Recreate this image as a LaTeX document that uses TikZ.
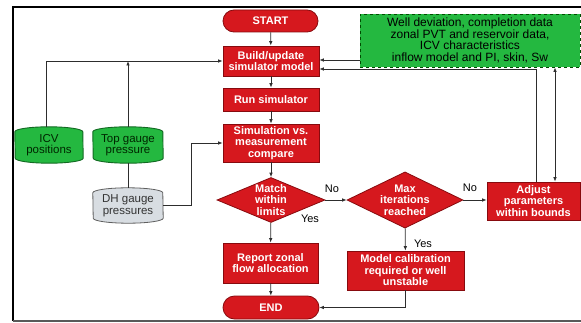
\documentclass[tikz,border=0pt]{standalone}
\usepackage{fontspec}
\setmainfont{Liberation Sans}
\usetikzlibrary{shapes.geometric,shapes.misc,arrows.meta,backgrounds,calc}
\definecolor{redfill}{RGB}{214,24,30}
\definecolor{redborder}{RGB}{135,10,14}
\definecolor{greenfill}{RGB}{36,184,64}
\definecolor{greenborder}{RGB}{18,105,34}
\definecolor{grayfill}{RGB}{216,221,226}
\definecolor{grayborder}{RGB}{95,95,95}
\definecolor{linec}{RGB}{45,45,45}
\begin{document}
\begin{tikzpicture}[x=1pt,y=1pt,
  redbox/.style={draw=redborder, fill=redfill, line width=0.8pt, text=white,
    font=\fontsize{11}{11.5}\selectfont\bfseries, align=center, inner sep=0pt},
  term/.style={redbox, rounded rectangle},
  dec/.style={redbox, diamond, inner sep=-6pt},
  drumtext/.style={inner sep=0pt, align=center, font=\fontsize{11.5}{11.5}\selectfont},
  arr/.style={draw=linec, line width=0.8pt, -{Latex[length=4.5pt,width=3.6pt]}},
  arrtwo/.style={draw=linec, line width=0.8pt, {Latex[length=4.5pt,width=3.6pt]}-{Latex[length=4.5pt,width=3.6pt]}},
  ln/.style={draw=linec, line width=0.8pt},
  lab/.style={font=\fontsize{11}{12}\selectfont, text=black, inner sep=0pt}]
\useasboundingbox (0,0) rectangle (581,322);
% frame
\draw[line width=1.6pt, black] (13,1) -- (13,315) -- (582,315);
\draw[line width=1.4pt, black!65] (13,1) -- (582,1);

% main column
\node[term, minimum width=95pt, minimum height=22pt] (start) at (270.5,301) {START};
\node[redbox, minimum width=96pt, minimum height=30pt] (build) at (271,261) {Build/update\\simulator model};
\node[redbox, minimum width=96pt, minimum height=23pt] (run) at (271,222.5) {Run simulator};
\node[redbox, minimum width=96pt, minimum height=38pt] (sim) at (271,179) {Simulation vs.\\measurement\\compare};
\node[dec, minimum width=108pt, minimum height=45pt] (match) at (271,122) {Match\\within\\limits};
\node[redbox, minimum width=95pt, minimum height=40pt] (report) at (270.5,59) {Report zonal\\flow allocation};
\node[term, minimum width=96pt, minimum height=23pt] (end) at (271,14.5) {END};

% right side
\node[dec, minimum width=116pt, minimum height=46pt] (max) at (405,122) {Max\\iterations\\reached};
\node[redbox, minimum width=93pt, minimum height=38pt] (adjust) at (533.5,121) {Adjust\\parameters\\within bounds};
\node[redbox, minimum width=117pt, minimum height=39pt] (calib) at (405.5,51.5) {Model calibration\\required or well\\unstable};
\node[draw=black!70!green, dashed, line width=0.9pt, fill=greenfill, text=black,
  minimum width=220pt, minimum height=53pt, inner sep=0pt, align=center,
  font=\fontsize{12}{11.7}\selectfont] (green) at (470,281.5)
  {Well deviation, completion data\\zonal PVT and reservoir data,\\ICV characteristics\\inflow model and PI, skin, Sw};

% drums (left)
\node[drumtext, minimum width=68pt, minimum height=36pt, text=black!85!green] (icv) at (49,177) {ICV\\positions};
\node[drumtext, minimum width=70pt, minimum height=36pt, text=black!85!green] (top) at (128,177) {Top gauge\\pressure};
\node[drumtext, minimum width=70pt, minimum height=35pt, text=black!80] (dh) at (128,116.5) {DH gauge\\pressures};
\begin{scope}[on background layer]
  \path[fill=greenfill, draw=greenborder, line width=0.9pt]
    ([yshift=-5pt]icv.north west) arc[start angle=180, end angle=0, x radius=34pt, y radius=5pt]
    -- ([yshift=5pt]icv.south east) arc[start angle=0, end angle=-180, x radius=34pt, y radius=5pt] -- cycle;
  \path[fill=greenfill, draw=greenborder, line width=0.9pt]
    ([yshift=-5pt]top.north west) arc[start angle=180, end angle=0, x radius=35pt, y radius=5pt]
    -- ([yshift=5pt]top.south east) arc[start angle=0, end angle=-180, x radius=35pt, y radius=5pt] -- cycle;
  \path[fill=grayfill, draw=grayborder, line width=0.8pt]
    ([yshift=-5pt]dh.north west) arc[start angle=180, end angle=0, x radius=35pt, y radius=5pt]
    -- ([yshift=5pt]dh.south east) arc[start angle=0, end angle=-180, x radius=35pt, y radius=5pt] -- cycle;
\end{scope}

% connectors main column
\draw[arr] (start) -- (build);
\draw[arr] (build) -- (run);
\draw[arr] (run) -- (sim);
\draw[arr] (sim) -- (match);
\draw[arr] (match) -- (report);
\draw[arr] (report) -- (end);
\draw[arr] (match.east) -- (max.west);
\draw[arr] (max.east) -- (max.east -| adjust.west);
\draw[arr] (max) -- (calib);
\draw[arr] (calib.south) |- (end.east);

\node[lab] (yes1) at (310,103) {Yes};
\node[lab] (no1) at (332,133) {No};
\node[lab] (no2) at (470,134) {No};
\node[lab] (yes2) at (423,78) {Yes};

% feedback / inputs
\coordinate (b1) at ([yshift=1pt]build.east);
\coordinate (b2) at ([yshift=-8pt]build.east);
\coordinate (a1) at ([xshift=2.5pt]adjust.north);
\coordinate (a2) at ([xshift=21.5pt]adjust.north);
\draw[arr] (green.west |- b1) -- (b1);
\draw[arr] (a1) |- (b2);
\draw[arrtwo] (a2) -- (a2 |- green.south);

\coordinate (i1) at ([xshift=-3pt]icv.north);
\coordinate (s1) at ([xshift=-31pt]sim.west);
\draw[arr] (i1) |- (build.west);
\draw[arr] (top.north) -- (top.north |- build.west);
\draw[ln] (dh.north) -- (top.south);
\draw[arr] (dh.east) -| (s1) -- (sim.west);
\end{tikzpicture}
\end{document}
